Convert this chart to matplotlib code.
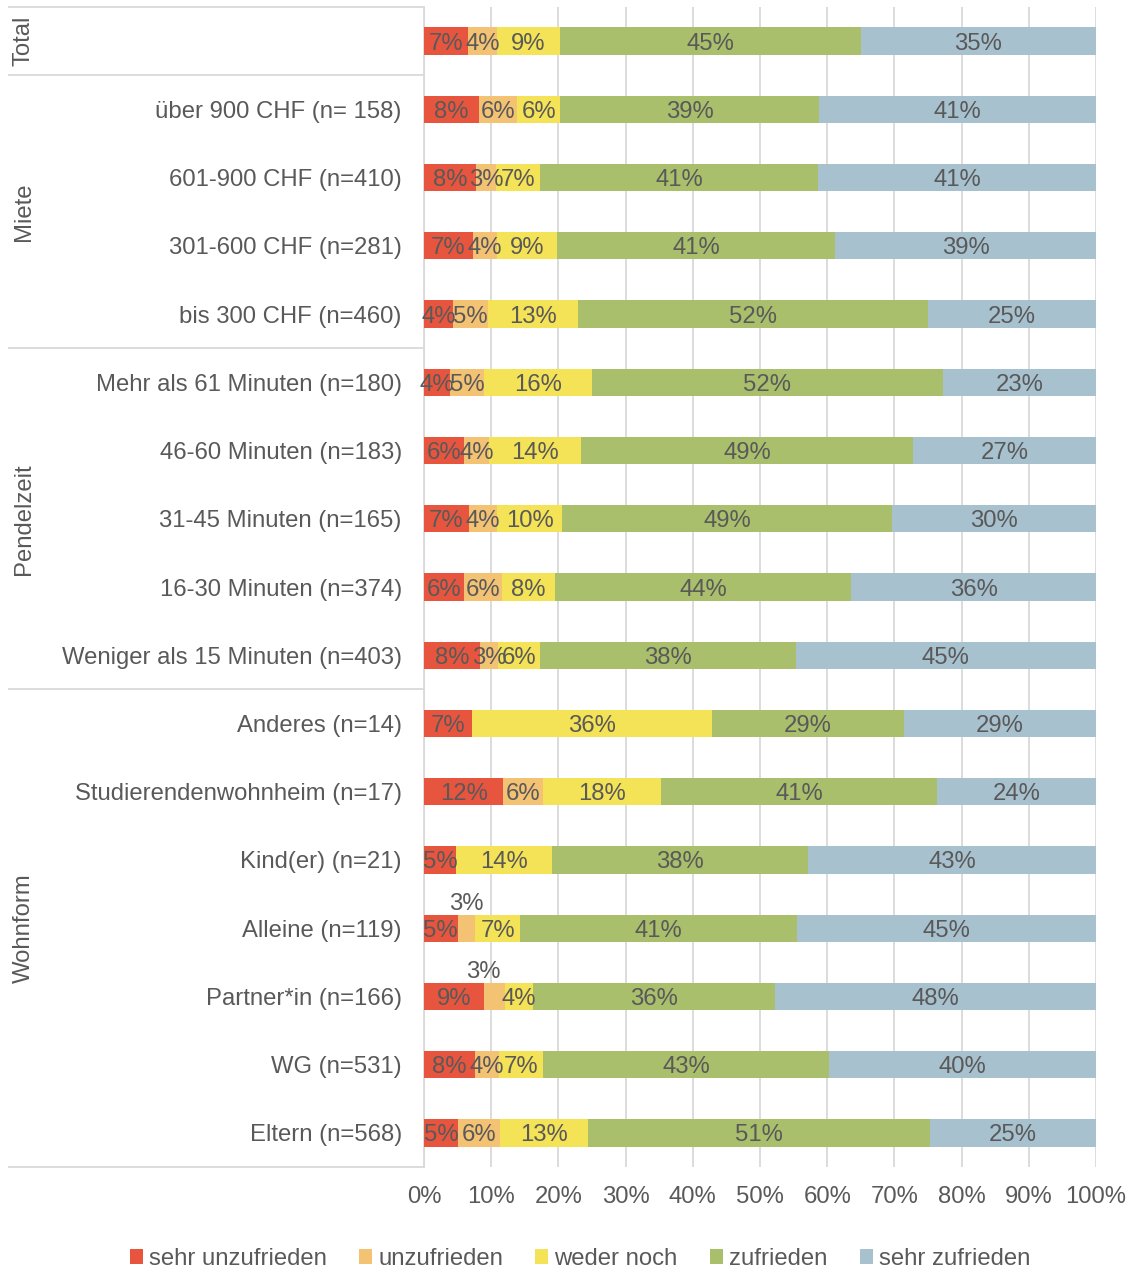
import matplotlib
matplotlib.use("Agg")
import matplotlib.pyplot as plt
from matplotlib.patches import Patch
import matplotlib.transforms as mtransforms
import numpy as np

plt.rcParams['font.family'] = ['Liberation Sans', 'DejaVu Sans']

categories = [
    "", "über 900 CHF (n= 158)", "601-900 CHF (n=410)", "301-600 CHF (n=281)",
    "bis 300 CHF (n=460)", "Mehr als 61 Minuten (n=180)", "46-60 Minuten (n=183)",
    "31-45 Minuten (n=165)", "16-30 Minuten (n=374)", "Weniger als 15 Minuten (n=403)",
    "Anderes (n=14)", "Studierendenwohnheim (n=17)", "Kind(er) (n=21)",
    "Alleine (n=119)", "Partner*in (n=166)", "WG (n=531)", "Eltern (n=568)",
]
groups = ["Total", "Miete", "Pendelzeit", "Wohnform"]
group_sizes = [1, 4, 5, 7]

series_names = ["sehr unzufrieden", "unzufrieden", "weder noch", "zufrieden", "sehr zufrieden"]
sehr_unzufrieden = [6.6, 8.2, 7.8, 7.3, 4.3, 3.9, 5.9, 6.7, 6.0, 8.3, 7.1, 11.8, 4.8, 5.0, 9.0, 7.6, 5.1]
unzufrieden      = [4.2, 5.7, 2.9, 3.6, 5.2, 5.0, 3.8, 4.2, 5.6, 2.7, 0.0, 5.9, 0.0, 2.6, 3.0, 3.5, 6.2]
weder_noch       = [9.4, 6.3, 6.6, 8.9, 13.4, 16.1, 13.7, 9.7, 7.9, 6.3, 35.7, 17.6, 14.3, 6.7, 4.2, 6.6, 13.1]
zufrieden        = [44.8, 38.6, 41.3, 41.4, 52.1, 52.2, 49.3, 49.1, 44.1, 38.0, 28.6, 41.1, 38.1, 41.2, 36.1, 42.6, 50.9]
sehr_zufrieden   = [35.0, 41.2, 41.4, 38.8, 25.0, 22.8, 27.3, 30.3, 36.4, 44.7, 28.6, 23.6, 42.8, 44.5, 47.7, 39.7, 24.7]
xticks_pct = [0, 10, 20, 30, 40, 50, 60, 70, 80, 90, 100]

series = [sehr_unzufrieden, unzufrieden, weder_noch, zufrieden, sehr_zufrieden]
colors = ["#E8553E", "#F4C273", "#F4E257", "#A9BF6B", "#A8C1CE"]
txt = "#595959"
grid_c = "#D9D9D9"
fs = 17.2

fig = plt.figure(figsize=(11.32, 12.69), dpi=100)
W, H = 1132, 1269
ax = fig.add_axes([424 / W, (H - 1167) / H, 672 / W, 1160 / H])

n = len(categories)
y = np.arange(n)
left = np.zeros(n)
for si, (vals, col) in enumerate(zip(series, colors)):
    vals = np.array(vals)
    ax.barh(y, vals, left=left, height=0.40, color=col, edgecolor='none', zorder=3)
    for i, v in enumerate(vals):
        if v <= 0:
            continue
        lab = f"{int(v + 0.5)}%"
        cx = left[i] + v / 2
        if si == 1 and categories[i].startswith("Alleine"):
            ax.annotate(lab, (cx, y[i]), xytext=(0, 27), textcoords='offset pixels',
                        ha='center', va='center_baseline', fontsize=fs, color=txt, zorder=4)
        elif si == 1 and categories[i].startswith("Partner"):
            ax.annotate(lab, (cx, y[i]), xytext=(-11, 27), textcoords='offset pixels',
                        ha='center', va='center_baseline', fontsize=fs, color=txt, zorder=4)
        else:
            ax.text(cx, y[i], lab, ha='center', va='center_baseline', fontsize=fs, color=txt, zorder=4)
    left += vals

ax.set_xlim(0, 100)
ax.set_ylim(n - 0.5, -0.5)
ax.set_xticks(xticks_pct)
ax.set_xticklabels([f"{t}%" for t in xticks_pct], fontsize=fs, color=txt)
ax.set_yticks(y)
ax.set_yticklabels(categories, fontsize=fs, color=txt)
ax.tick_params(axis='both', length=0)
ax.tick_params(axis='y', pad=16)
ax.tick_params(axis='x', pad=14)
ax.grid(axis='x', color=grid_c, linewidth=1.3, zorder=0)
ax.set_axisbelow(True)
for s in ['top', 'right', 'bottom']:
    ax.spines[s].set_visible(False)
ax.spines['left'].set_color(grid_c)
ax.spines['left'].set_linewidth(1.3)

trans = mtransforms.blended_transform_factory(ax.transAxes, ax.transData)
x0 = (9 - 424) / 672
bounds = [-0.5]
acc = -0.5
for g in group_sizes:
    acc += g
    bounds.append(acc)
for b in bounds:
    ax.plot([x0, 0], [b, b], transform=trans, color=grid_c, linewidth=1.3, clip_on=False)

start = 0
for g, sz in zip(groups, group_sizes):
    c = start + (sz - 1) / 2
    ax.text((24 - 424) / 672, c, g, transform=trans, rotation=90, ha='center', va='center',
            fontsize=fs, color=txt)
    start += sz

handles = [Patch(facecolor=c, edgecolor='none', label=l) for c, l in zip(colors, series_names)]
leg = fig.legend(handles=handles, loc='center', bbox_to_anchor=(580 / W, 1 - 1259 / H), ncol=5,
                 frameon=False, fontsize=fs, handlelength=0.55, handleheight=0.55,
                 handletextpad=0.25, columnspacing=1.35, borderpad=0)
for t in leg.get_texts():
    t.set_color(txt)

fig.savefig("out.png", dpi=100)
